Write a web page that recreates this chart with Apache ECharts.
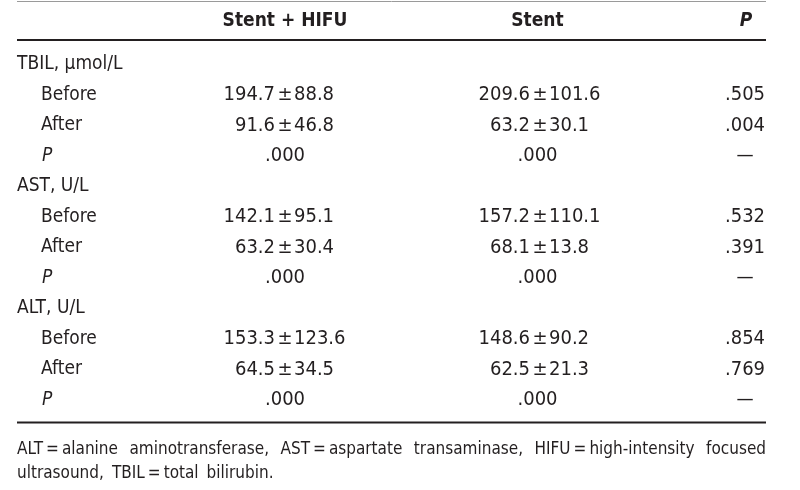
<!DOCTYPE html>
<html>
<head>
<meta charset="utf-8">
<script src="https://cdn.jsdelivr.net/npm/echarts@6/dist/echarts.min.js"></script>
<style>html,body{margin:0;padding:0;background:#fff}#c{width:800px;height:490px}</style>
</head>
<body>
<div id="c"></div>
<script>
// ---------- data ----------
const columnHeaders = ['Stent + HIFU', 'Stent', 'P'];
const groups = ['TBIL, \u03bcmol/L', 'AST, U/L', 'ALT, U/L'];
const subRows = ['Before', 'After', 'P'];
const hifuBeforeMean = [194.7, 142.1, 153.3];
const hifuBeforeSD   = [88.8, 95.1, 123.6];
const hifuAfterMean  = [91.6, 63.2, 64.5];
const hifuAfterSD    = [46.8, 30.4, 34.5];
const stentBeforeMean = [209.6, 157.2, 148.6];
const stentBeforeSD   = [101.6, 110.1, 90.2];
const stentAfterMean  = [63.2, 68.1, 62.5];
const stentAfterSD    = [30.1, 13.8, 21.3];
const hifuWithinP  = ['.000', '.000', '.000'];
const stentWithinP = ['.000', '.000', '.000'];
const betweenBeforeP = ['.505', '.532', '.854'];
const betweenAfterP  = ['.004', '.391', '.769'];
const footnoteLine1 = ['ALT\u2009=\u2009alanine', 'aminotransferase,', 'AST\u2009=\u2009aspartate', 'transaminase,', 'HIFU\u2009=\u2009high-intensity', 'focused'];
const footnoteLine2 = ['ultrasound,', 'TBIL\u2009=\u2009total', 'bilirubin.'];

// ---------- layout ----------
const FONT = "DejaVu Sans Condensed";
const FS = 19, FS_NUM = 20, FS_NOTE = 17;
const COLOR = '#231f20';
const L = { left: 17, right: 766, indent: 41, hifu: 285, stent: 540, stentP: 537.5, pCol: 745,
            headerY: 21.5, firstRowY: 64.5, rowH: 30.5, note1Y: 450, note2Y: 474,
            topRule: 1.5, headRule: 40, bottomRule: 422.5 };

const cells = [];
function cell(x, y, text, align, opts) { cells.push(Object.assign({ x, y, text, align, size: FS }, opts || {})); }

cell(L.hifu, L.headerY, columnHeaders[0], 'center', { weight: 'bold' });
cell(L.stentP, L.headerY, columnHeaders[1], 'center', { weight: 'bold' });
cell(L.pCol + 1, L.headerY, columnHeaders[2], 'center', { weight: 'bold', style: 'italic' });

function pm(anchor, y, mean, sd) {
  cell(anchor - 10, y, mean.toFixed(1), 'right', { size: FS_NUM });
  cell(anchor, y, '\u00b1', 'center', { size: FS_NUM });
  cell(anchor + 9, y, sd.toFixed(1), 'left', { size: FS_NUM });
}

groups.forEach((g, gi) => {
  const base = gi * 4;
  const yG = L.firstRowY + L.rowH * base;
  cell(L.left, yG, g, 'left');
  const yB = L.firstRowY + L.rowH * (base + 1);
  const yA = L.firstRowY + L.rowH * (base + 2);
  const yP = L.firstRowY + L.rowH * (base + 3);
  cell(L.indent, yB, subRows[0], 'left');
  cell(L.indent, yA, subRows[1], 'left');
  cell(L.indent + 1, yP, subRows[2], 'left', { style: 'italic' });
  pm(L.hifu, yB, hifuBeforeMean[gi], hifuBeforeSD[gi]);
  pm(L.hifu, yA, hifuAfterMean[gi], hifuAfterSD[gi]);
  cell(L.hifu, yP, hifuWithinP[gi], 'center', { size: FS_NUM });
  pm(L.stent, yB, stentBeforeMean[gi], stentBeforeSD[gi]);
  pm(L.stent, yA, stentAfterMean[gi], stentAfterSD[gi]);
  cell(L.stentP, yP, stentWithinP[gi], 'center', { size: FS_NUM });
  cell(L.pCol, yB, betweenBeforeP[gi], 'center', { size: FS_NUM });
  cell(L.pCol, yA, betweenAfterP[gi], 'center', { size: FS_NUM });
  cell(L.pCol, yP, '\u2014', 'center');
});

// footnote: first line justified to the table width, second line with natural word gaps
const ctx = document.createElement('canvas').getContext('2d');
ctx.font = FS_NOTE + 'px "' + FONT + '"';
const widths = footnoteLine1.map(t => ctx.measureText(t).width);
const total = widths.reduce((a, b) => a + b, 0);
const gap = Math.max(4, (L.right - L.left - total) / (footnoteLine1.length - 1));
let fx = L.left;
footnoteLine1.forEach((t, i) => { cell(fx, L.note1Y, t, 'left', { size: FS_NOTE }); fx += widths[i] + gap; });
fx = L.left;
footnoteLine2.forEach(t => { cell(fx, L.note2Y, t, 'left', { size: FS_NOTE }); fx += ctx.measureText(t).width + 8; });

const rules = [
  { y: L.topRule, w: 1, c: '#9a9a9a' },
  { y: L.headRule, w: 2, c: '#231f20' },
  { y: L.bottomRule, w: 2, c: '#231f20' }
];

const chart = echarts.init(document.getElementById('c'), null, { renderer: 'canvas' });
chart.setOption({
  animation: false,
  backgroundColor: '#fff',
  grid: { left: 0, right: 0, top: 0, bottom: 0 },
  xAxis: { type: 'value', min: 0, max: 800, show: false },
  yAxis: { type: 'value', min: 0, max: 490, inverse: true, show: false },
  series: [
    {
      type: 'custom', silent: true,
      data: rules.map(r => [L.left, r.y, L.right]),
      renderItem: (params, api) => {
        const r = rules[params.dataIndex];
        const p1 = api.coord([api.value(0), api.value(1)]);
        const p2 = api.coord([api.value(2), api.value(1)]);
        return { type: 'line', shape: { x1: p1[0], y1: p1[1], x2: p2[0], y2: p2[1] },
                 style: { stroke: r.c, lineWidth: r.w } };
      }
    },
    {
      type: 'custom', silent: true,
      data: cells.map(c => [c.x, c.y]),
      renderItem: (params, api) => {
        const c = cells[params.dataIndex];
        const p = api.coord([api.value(0), api.value(1)]);
        return { type: 'text', x: p[0], y: p[1],
                 style: { text: c.text, fill: COLOR, align: c.align, verticalAlign: 'middle',
                          fontFamily: FONT, fontSize: c.size, fontWeight: c.weight || 'normal',
                          fontStyle: c.style || 'normal' } };
      }
    }
  ]
});
</script>
</body>
</html>
